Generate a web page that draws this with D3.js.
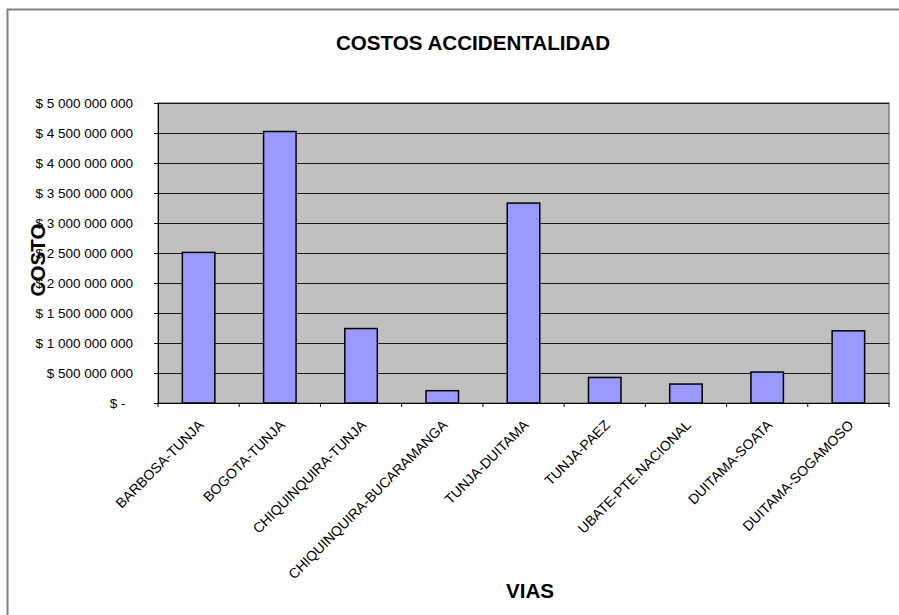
<!DOCTYPE html>
<html>
<head>
<meta charset="utf-8">
<script src="https://cdn.jsdelivr.net/npm/d3@7"></script>
<style>
  body { margin: 0; background: #fff; }
  svg { display: block; font-family: Arial, "Liberation Sans", sans-serif; }
</style>
</head>
<body>
<div id="chart"></div>
<script>
// categories (vias) and accident costs
var vias = ["BARBOSA-TUNJA", "BOGOTA-TUNJA", "CHIQUINQUIRA-TUNJA", "CHIQUINQUIRA-BUCARAMANGA",
  "TUNJA-DUITAMA", "TUNJA-PAEZ", "UBATE-PTE.NACIONAL", "DUITAMA-SOATA", "DUITAMA-SOGAMOSO"];
var costos = [2510000000, 4525000000, 1241000000, 205000000, 3332000000,
  426000000, 316000000, 516000000, 1203000000];

// y axis ticks and their labels
var yTicks = [0, 500000000, 1000000000, 1500000000, 2000000000, 2500000000,
  3000000000, 3500000000, 4000000000, 4500000000, 5000000000];
var yTickLabels = ["$ -\u2007", "$ 500 000 000", "$ 1 000 000 000", "$ 1 500 000 000",
  "$ 2 000 000 000", "$ 2 500 000 000", "$ 3 000 000 000", "$ 3 500 000 000",
  "$ 4 000 000 000", "$ 4 500 000 000", "$ 5 000 000 000"];

var svgWidth = 899;
var svgHeight = 615;

// plot area
var plot = { left: 158, right: 889, top: 103, bottom: 403 };

var svg = d3.select("#chart")
  .append("svg")
  .attr("width", svgWidth)
  .attr("height", svgHeight);

svg.append("rect")
  .attr("width", svgWidth)
  .attr("height", svgHeight)
  .attr("fill", "#fff");

// chart border (only left + top are visible in the picture)
svg.append("rect")
  .attr("x", 7.5)
  .attr("y", 9.5)
  .attr("width", 1200)
  .attr("height", 1200)
  .attr("fill", "none")
  .attr("stroke", "#808080")
  .attr("stroke-width", 2);

// scales
var x = d3.scaleBand()
  .domain(vias)
  .range([plot.left, plot.right])
  .paddingInner(0.6)
  .paddingOuter(0.3);

var y = d3.scaleLinear()
  .domain([0, 5000000000])
  .range([plot.bottom, plot.top]);

// plot background
svg.append("rect")
  .attr("x", plot.left)
  .attr("y", plot.top)
  .attr("width", plot.right - plot.left)
  .attr("height", plot.bottom - plot.top)
  .attr("fill", "#c0c0c0")
  .attr("stroke", "#808080")
  .attr("stroke-width", 1.5);

// gridlines
svg.append("g")
  .selectAll("line")
  .data(yTicks.slice(1))
  .enter()
  .append("line")
  .attr("x1", plot.left)
  .attr("x2", plot.right)
  .attr("y1", d => Math.round(y(d)) + 0.5)
  .attr("y2", d => Math.round(y(d)) + 0.5)
  .attr("stroke", "#1a1a1a")
  .attr("stroke-width", 1);

// bars
svg.append("g")
  .selectAll("rect")
  .data(costos)
  .enter()
  .append("rect")
  .attr("x", (d, i) => x(vias[i]))
  .attr("y", d => y(d))
  .attr("width", x.bandwidth())
  .attr("height", d => y(0) - y(d))
  .attr("fill", "#9999ff")
  .attr("stroke", "#000")
  .attr("stroke-width", 1.5);

// y axis
var leftAxis = d3.axisLeft(y)
  .tickValues(yTicks)
  .tickFormat((d, i) => yTickLabels[i])
  .tickSize(4)
  .tickSizeOuter(0)
  .tickPadding(21);

var yAxisG = svg.append("g")
  .attr("transform", `translate(${plot.left}, 0)`)
  .call(leftAxis);
yAxisG.select(".domain").attr("stroke", "#000");
yAxisG.selectAll("text")
  .attr("font-size", "13.5px")
  .attr("font-family", "Arial, 'Liberation Sans', sans-serif")
  .attr("fill", "#000");

// x axis: labels at category centres, tick marks at category boundaries
var bottomAxis = d3.axisBottom(x)
  .tickSize(0)
  .tickSizeOuter(0);

var xAxisG = svg.append("g")
  .attr("transform", `translate(0, ${plot.bottom})`)
  .call(bottomAxis);
xAxisG.select(".domain").attr("stroke", "#000");
xAxisG.selectAll("text")
  .attr("x", null)
  .attr("y", null)
  .attr("dy", null)
  .attr("text-anchor", "end")
  .attr("transform", "translate(6, 23) rotate(-45)")
  .attr("font-size", "14px")
  .attr("font-family", "Arial, 'Liberation Sans', sans-serif")
  .attr("fill", "#000");

xAxisG.append("g")
  .selectAll("line")
  .data(d3.range(vias.length + 1))
  .enter()
  .append("line")
  .attr("x1", i => x.range()[0] + i * x.step())
  .attr("x2", i => x.range()[0] + i * x.step())
  .attr("y1", 0)
  .attr("y2", 4)
  .attr("stroke", "#000");

// titles
svg.append("text")
  .attr("x", 473)
  .attr("y", 50)
  .attr("text-anchor", "middle")
  .attr("font-size", "20.6px")
  .attr("font-weight", "bold")
  .text("COSTOS ACCIDENTALIDAD");

svg.append("text")
  .attr("transform", "translate(45, 260) rotate(-90)")
  .attr("text-anchor", "middle")
  .attr("font-size", "20.6px")
  .attr("font-weight", "bold")
  .text("COSTO");

svg.append("text")
  .attr("x", 530)
  .attr("y", 598)
  .attr("text-anchor", "middle")
  .attr("font-size", "20.6px")
  .attr("font-weight", "bold")
  .text("VIAS");
</script>
</body>
</html>
